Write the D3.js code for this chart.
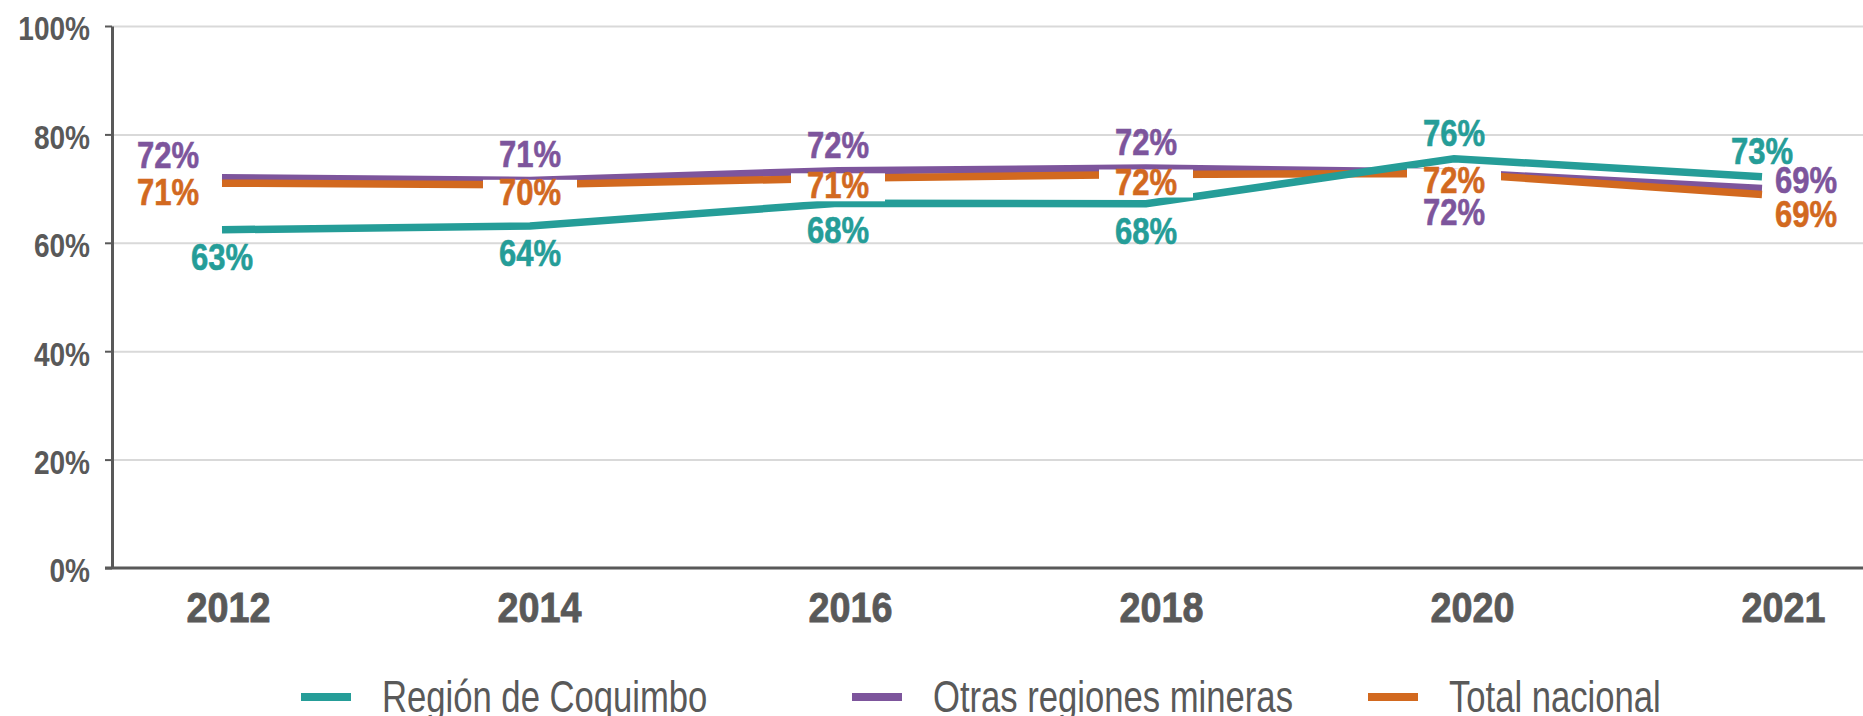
<html>
<head>
    <meta charset="utf-8">
    <style>
        body {margin:0; background:#fff}
        text {font-family:'Liberation Sans',Arial,sans-serif}
    </style>
    <script src="https://d3js.org/d3.v7.min.js"></script>
</head>
<body>
    <script>
        //Categories on the x axis
        var years = ["2012", "2014", "2016", "2018", "2020", "2021"];
        //Series names (legend order)
        var seriesNames = ["Región de Coquimbo", "Otras regiones mineras", "Total nacional"];
        //Values (percent)
        var coquimbo = [62.4, 63.1, 67.3, 67.2, 75.5, 72.2];
        var otras    = [72.0, 71.5, 73.3, 73.8, 73.0, 70.0];
        var total    = [71.0, 70.7, 71.9, 72.6, 72.8, 68.9];
        //Data labels printed on the chart
        var coquimboLabels = ["63%", "64%", "68%", "68%", "76%", "73%"];
        var otrasLabels    = ["72%", "71%", "72%", "72%", "72%", "69%"];
        var totalLabels    = ["71%", "70%", "71%", "72%", "72%", "69%"];
        //Y axis ticks
        var yTicks = [0, 20, 40, 60, 80, 100];

        var svg_width = 1863;
        var svg_height = 716;
        var colors = ["#259d98", "#7d559c", "#d2691f"];
        var gray = "#595959";

        //Where each data label sits relative to its point
        var placements = [
            ["B", "B", "B", "B", "T", "T"],
            ["TL", "T", "T", "T", "B2", "R"],
            ["BL", "C", "C", "C", "C", "BR"]
        ];
        var offsets = {
            T:  {dx: 0,   dy: -13},
            B:  {dx: 0,   dy: 40},
            C:  {dx: 0,   dy: 20},
            B2: {dx: 0,   dy: 53},
            TL: {dx: -54, dy: -10},
            BL: {dx: -54, dy: 22},
            R:  {dx: 44,  dy: 4},
            BR: {dx: 44,  dy: 32}
        };

        var series = [
            {name: seriesNames[0], values: coquimbo, labels: coquimboLabels, color: colors[0], place: placements[0]},
            {name: seriesNames[1], values: otras,    labels: otrasLabels,    color: colors[1], place: placements[1]},
            {name: seriesNames[2], values: total,    labels: totalLabels,    color: colors[2], place: placements[2]}
        ];

        var x = d3.scalePoint().domain(years).range([222, 1762]);
        //category labels sit a little wider than the plotted points
        var xLabels = x.copy().range([228, 1783]);
        var y = d3.scaleLinear().domain([0, 100]).range([568, 26]);
        var left = 112;

        //The original uses a narrow typeface: squeeze the text horizontally
        function squeeze(sel, k) {
            sel.each(function() {
                var t = d3.select(this);
                var tx = +t.attr("x") || 0, ty = +t.attr("y") || 0;
                t.attr("x", 0).attr("y", 0)
                 .attr("transform", `translate(${tx},${ty}) scale(${k},1)`);
            });
        }

        var svg = d3.select("body").append("svg")
            .attr("width", svg_width)
            .attr("height", svg_height);

        //~~~~~~~~~~~~~~~~~~~~~~~~~~~~~~~~~~~~~~~~~~
        //Grid and axes
        //~~~~~~~~~~~~~~~~~~~~~~~~~~~~~~~~~~~~~~~~~~
        svg.append("g")
            .attr("transform", `translate(${left},0)`)
            .call(d3.axisLeft(y).tickValues(yTicks.slice(1)).tickSize(-(svg_width - left)).tickFormat(""))
            .call(g => g.select(".domain").remove())
            .selectAll("line")
            .attr("stroke", "#d9d9d9")
            .attr("stroke-width", 2);

        var yAxis = svg.append("g")
            .attr("transform", `translate(${left},0)`)
            .call(d3.axisLeft(y).tickValues(yTicks).tickSize(7).tickSizeOuter(0).tickPadding(15)
                .tickFormat(d => d + "%"));
        yAxis.select(".domain").attr("stroke", gray).attr("stroke-width", 3);
        yAxis.selectAll("line").attr("stroke", gray).attr("stroke-width", 2);
        yAxis.selectAll("text")
            .attr("fill", gray)
            .attr("font-size", 33)
            .attr("font-weight", "bold")
            .attr("dy", "0.42em")
            .call(squeeze, 0.85);

        svg.append("line")
            .attr("x1", left - 7).attr("x2", svg_width)
            .attr("y1", y(0)).attr("y2", y(0))
            .attr("stroke", gray)
            .attr("stroke-width", 3);

        var xAxis = svg.append("g")
            .attr("transform", `translate(0,${y(0)})`)
            .call(d3.axisBottom(xLabels).tickSize(0));
        xAxis.select(".domain").remove();
        xAxis.selectAll("text")
            .attr("fill", gray)
            .attr("stroke", gray)
            .attr("stroke-width", 0.8)
            .attr("font-size", 42)
            .attr("font-weight", "bold")
            .attr("y", 54)
            .attr("dy", null)
            .call(squeeze, 0.9);

        //~~~~~~~~~~~~~~~~~~~~~~~~~~~~~~~~~~~~~~~~~~
        //Lines (purple, orange, then teal on top)
        //~~~~~~~~~~~~~~~~~~~~~~~~~~~~~~~~~~~~~~~~~~
        var line = d3.line()
            .x((d, i) => x(years[i]))
            .y(d => y(d));

        svg.append("g")
            .attr("fill", "none")
            .attr("stroke-width", 7.5)
            .selectAll("path")
            .data([series[1], series[2], series[0]])
            .join("path")
            .attr("stroke", d => d.color)
            .attr("d", d => line(d.values));

        //~~~~~~~~~~~~~~~~~~~~~~~~~~~~~~~~~~~~~~~~~~
        //Data labels
        //~~~~~~~~~~~~~~~~~~~~~~~~~~~~~~~~~~~~~~~~~~
        var labelData = [];
        series.forEach(s => s.values.forEach((v, i) => {
            var o = offsets[s.place[i]];
            labelData.push({
                x: x(years[i]) + o.dx,
                y: y(v) + o.dy,
                text: s.labels[i],
                color: s.color,
                box: s.place[i] == "C"
            });
        }));

        var labels = svg.append("g")
            .attr("font-size", 37)
            .attr("font-weight", "bold")
            .attr("text-anchor", "middle");

        labels.selectAll("rect")
            .data(labelData.filter(d => d.box))
            .join("rect")
            .attr("x", d => d.x - 47)
            .attr("y", d => d.y - 25)
            .attr("width", 94)
            .attr("height", 28)
            .attr("fill", "#fff");

        labels.selectAll("text")
            .data(labelData)
            .join("text")
            .attr("x", d => d.x)
            .attr("y", d => d.y)
            .attr("fill", d => d.color)
            .attr("stroke", d => d.color)
            .attr("stroke-width", 0.6)
            .text(d => d.text)
            .call(squeeze, 0.84);

        //~~~~~~~~~~~~~~~~~~~~~~~~~~~~~~~~~~~~~~~~~~
        //Legend
        //~~~~~~~~~~~~~~~~~~~~~~~~~~~~~~~~~~~~~~~~~~
        var legendX = [301, 852, 1368];
        var legend = svg.append("g")
            .selectAll("g")
            .data(series)
            .join("g")
            .attr("transform", (d, i) => `translate(${legendX[i]},697)`);

        legend.append("rect")
            .attr("x", 0).attr("y", -4)
            .attr("width", 50).attr("height", 8)
            .attr("fill", d => d.color);

        legend.append("text")
            .attr("x", 81)
            .attr("y", 15)
            .attr("font-size", 45)
            .attr("fill", gray)
            .text(d => d.name)
            .call(squeeze, 0.77);
    </script>
</body>
</html>
